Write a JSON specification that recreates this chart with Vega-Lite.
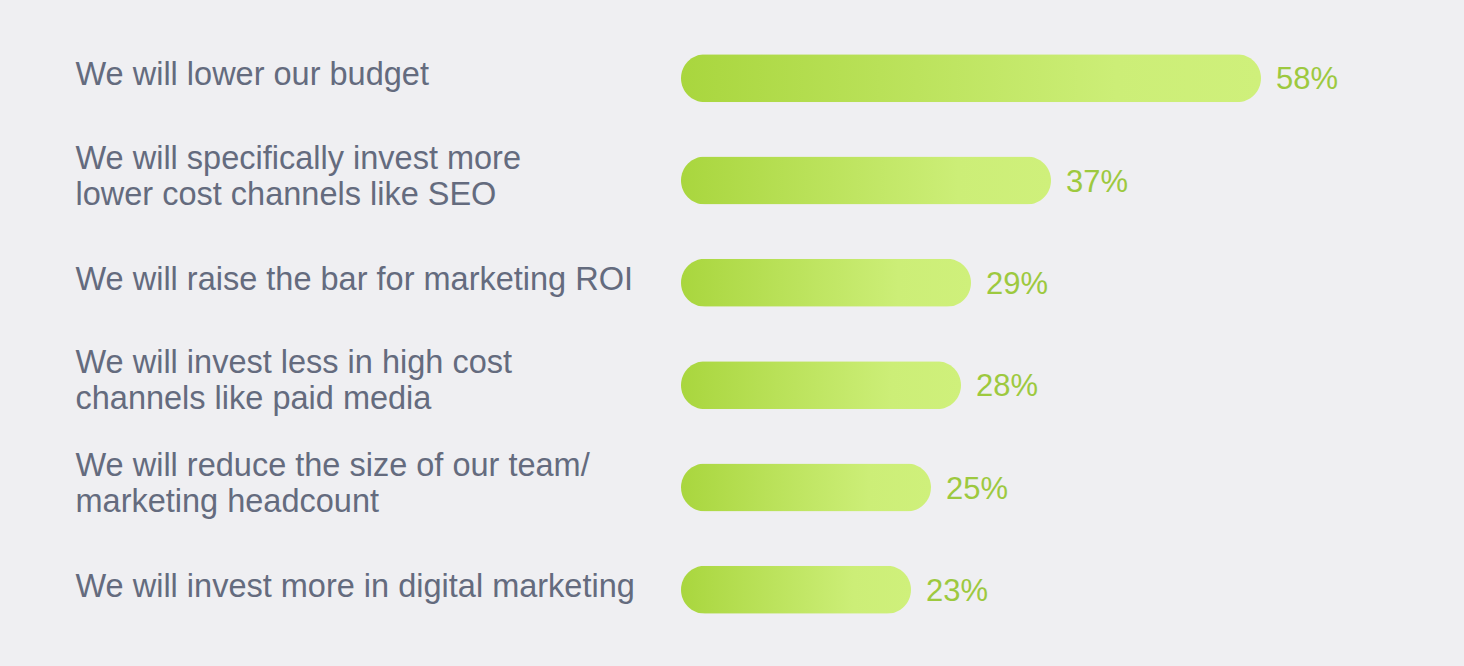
{
  "$schema": "https://vega.github.io/schema/vega-lite/v6.json",
  "autosize": {"type": "none"},
  "width": 600,
  "height": 614,
  "padding": {"left": 681, "top": 27, "right": 183, "bottom": 25},
  "background": "#efeff2",
  "config": {"view": {"stroke": null}, "font": "Liberation Sans"},
  "data": {
    "values": [
      {"label": "We will lower our budget", "value": 0.58},
      {"label": "We will specifically invest more|lower cost channels like SEO", "value": 0.37},
      {"label": "We will raise the bar for marketing ROI", "value": 0.29},
      {"label": "We will invest less in high cost|channels like paid media", "value": 0.28},
      {"label": "We will reduce the size of our team/|marketing headcount", "value": 0.25},
      {"label": "We will invest more in digital marketing", "value": 0.23}
    ]
  },
  "encoding": {
    "y": {
      "field": "label",
      "type": "nominal",
      "sort": null,
      "scale": {"paddingInner": 0.531, "paddingOuter": 0.2655},
      "axis": {
        "title": null,
        "domain": false,
        "ticks": false,
        "labelAlign": "left",
        "labelPadding": 606,
        "labelFontSize": 32.5,
        "labelColor": "#646b7e",
        "labelLineHeight": 36,
        "labelBaseline": "middle",
        "labelLimit": 0,
        "labelOffset": {"condition": {"test": "indexof(datum.label, '|') >= 0", "value": -22}, "value": -3},
        "labelExpr": "split(datum.label, '|')"
      }
    },
    "x": {
      "field": "value",
      "type": "quantitative",
      "scale": {"domain": [0, 0.6]},
      "axis": null
    }
  },
  "layer": [
    {
      "mark": {
        "type": "bar",
        "cornerRadius": 24,
        "color": {
          "gradient": "linear",
          "x1": 0, "y1": 0, "x2": 1, "y2": 0,
          "stops": [
            {"offset": 0, "color": "#a9d63e"},
            {"offset": 0.75, "color": "#ccee77"},
            {"offset": 1, "color": "#cff07b"}
          ]
        }
      }
    },
    {
      "mark": {
        "type": "text",
        "align": "left",
        "baseline": "middle",
        "dx": 15,
        "dy": 2,
        "fontSize": 31,
        "color": "#9dc93f"
      },
      "encoding": {
        "text": {"field": "value", "type": "quantitative", "format": ".0%"}
      }
    }
  ]
}
